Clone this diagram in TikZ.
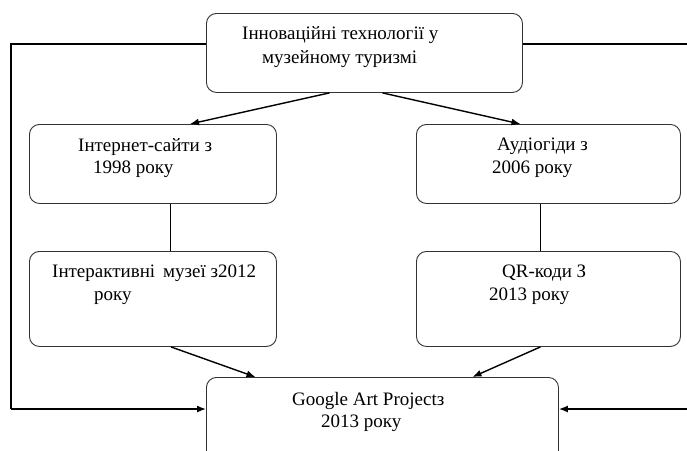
\documentclass[tikz,border=0pt]{standalone}
\usepackage{fontspec}
\setmainfont{Liberation Serif}
\usetikzlibrary{calc,arrows.meta}
\begin{document}
\begin{tikzpicture}[x=1pt,y=-1pt,
  box/.style={draw=black!80, line width=0.9pt, rounded corners=10pt, inner sep=0pt, anchor=north west},
  lbl/.style={anchor=base west, inner sep=0pt, font=\fontsize{19}{22}\selectfont},
  arr/.style={line width=1.4pt, -{Latex[length=9pt,width=7pt]}},
  link/.style={line width=0.7pt}]
\clip (0,0) rectangle (687,450);
\fill[white] (0,0) rectangle (687,450);
% boxes
\node[box, minimum width=316pt, minimum height=79pt] (top) at (206,13) {};
\node[box, minimum width=247pt, minimum height=79pt] (inet) at (29,124) {};
\node[box, minimum width=247pt, minimum height=95pt] (inter) at (29,251) {};
\node[box, minimum width=264pt, minimum height=79pt] (audio) at (416,124) {};
\node[box, minimum width=264pt, minimum height=95pt] (qr) at (416,251) {};
\node[box, minimum width=352pt, minimum height=90pt] (gap) at (206,377) {};
% texts
\node[lbl] (t1) at (242,39) {Інноваційні технології у};
\node[lbl] (t2) at (262,63) {музейному туризмі};
\node[lbl] (i1) at (78,151) {Інтернет-сайти з};
\node[lbl] (i2) at (93,173) {1998 року};
\node[lbl] (m1) at (52,277) {Інтерактивні\, музеї з2012};
\node[lbl] (m2) at (94,300) {року};
\node[lbl] (a1) at (497,150) {Аудіогіди з};
\node[lbl] (a2) at (492,173) {2006 року};
\node[lbl] (q1) at (502,277) {QR-коди З};
\node[lbl] (q2) at (489,300) {2013 року};
\node[lbl] (g1) at (292,405) {Google Art Projectз};
\node[lbl] (g2) at (321,427) {2013 року};
% outer connectors
\coordinate (l1) at (11,44);
\coordinate (l2) at (11,409);
\coordinate (r1) at (700,44);
\coordinate (r2) at (700,409);
\draw[line width=1.2pt] (top.west |- l1) -- (l1) -- (l2);
\draw[arr] (l2) -- (gap.west |- l2);
\draw[line width=1.2pt] (top.east |- r1) -- (r1);
\draw[arr] (r2) -- (gap.east |- r2);
% arrows from top
\draw[arr] ($(top.south)+(-35,0)$) -- ($(inet.north)+(37,0)$);
\draw[arr] ($(top.south)+(18,0)$) -- ($(audio.north)+(-28,0)$);
% vertical links
\draw[link] ($(inet.south)+(17.5,0)$) -- ($(inter.north)+(17.5,0)$);
\draw[link] ($(audio.south)+(-8,0)$) -- ($(qr.north)+(-8,0)$);
% arrows to bottom
\draw[arr] ($(inter.south)+(18,0)$) -- ($(gap.north)+(-127,0)$);
\draw[arr] ($(qr.south)+(-8,0)$) -- ($(gap.north)+(90,0)$);
\end{tikzpicture}
\end{document}
